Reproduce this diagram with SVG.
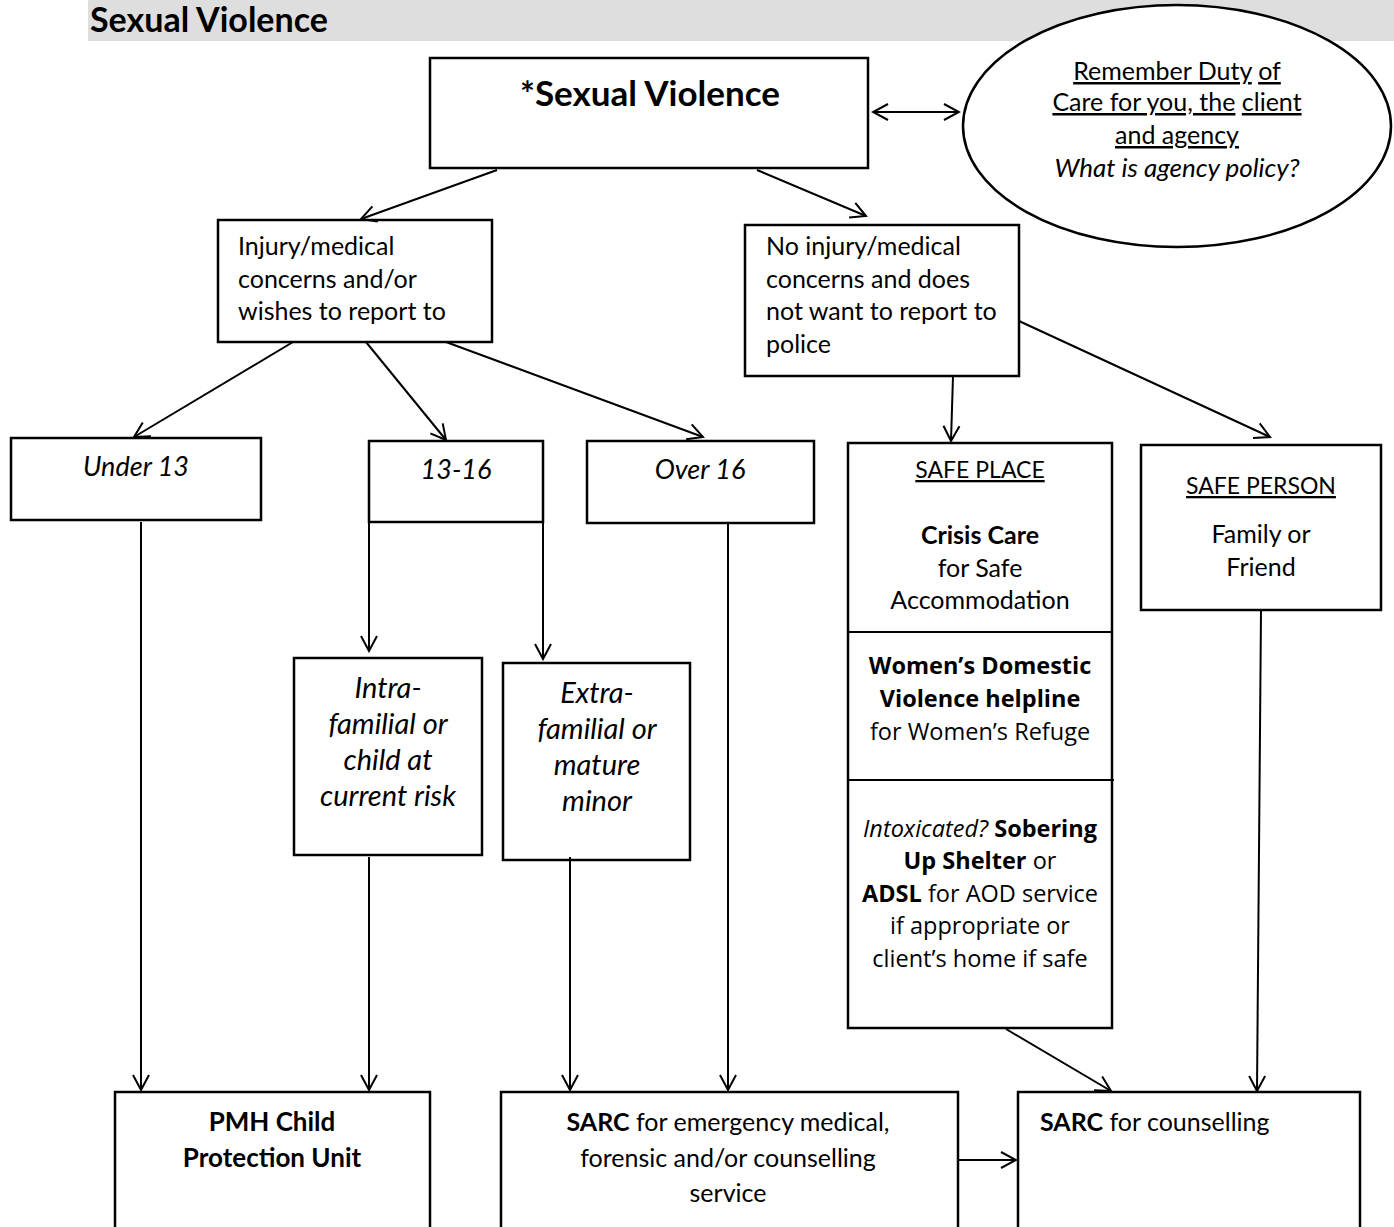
<svg xmlns="http://www.w3.org/2000/svg" width="1394" height="1227" viewBox="0 0 1394 1227">
  <defs>
    <marker id="arrow" markerUnits="userSpaceOnUse" markerWidth="20" markerHeight="20" viewBox="-18 -10 20 20" refX="0" refY="0" orient="auto-start-reverse">
      <path d="M-15,-8 L0,0 L-15,8" fill="none" stroke="#000" stroke-width="2"/>
    </marker>
    <style>
      .box { fill: #fff; stroke: #000; stroke-width: 2.5; }
      .line { fill: none; stroke: #000; stroke-width: 2; }
      .t { font-family: Lato, "Open Sans", "Liberation Sans", sans-serif; font-size: 25px; fill: #000; }
      .c { text-anchor: middle; }
      .i { font-style: italic; font-size: 27px; }
      .b { font-weight: bold; }
      .u { text-decoration: underline; }
      .o { font-family: "Open Sans", "Liberation Sans", sans-serif; font-size: 23.5px; }
      .o .i, .o.i { font-size: 23.5px; }
    </style>
  </defs>

  <!-- page heading band -->
  <g id="heading">
    <rect x="88" y="0" width="1306" height="41" fill="#dedede"/>
    <text x="90" y="32" class="t b" style="font-size:34px">Sexual Violence</text>
  </g>

  <!-- duty of care reminder -->
  <g id="duty-of-care">
    <ellipse cx="1177" cy="126" rx="214" ry="121" class="box" stroke-width="2"/>
    <text x="1177" y="80" class="t c"><tspan class="u">Remember Duty</tspan> <tspan class="u">of</tspan></text>
    <text x="1177" y="111" class="t c"><tspan class="u">Care for you, the</tspan> <tspan class="u">client</tspan></text>
    <text x="1177" y="144" class="t c u">and agency</text>
    <text x="1177" y="177" class="t c i" style="font-size:26px">What is agency policy?</text>
  </g>

  <g id="sexual-violence">
    <rect x="430" y="58" width="438" height="110" class="box"/>
    <text x="650" y="106" class="t c b" style="font-size:35px">*Sexual Violence</text>
  </g>

  <g id="injury">
    <rect x="218" y="220" width="274" height="122" class="box"/>
    <text class="t"><tspan x="238" y="255">Injury/medical</tspan><tspan x="238" y="288">concerns and/or</tspan><tspan x="238" y="320">wishes to report to</tspan></text>
  </g>

  <g id="no-injury">
    <rect x="745" y="225" width="274" height="151" class="box"/>
    <text class="t"><tspan x="766" y="255">No injury/medical</tspan><tspan x="766" y="288">concerns and does</tspan><tspan x="766" y="320">not want to report to</tspan><tspan x="766" y="353">police</tspan></text>
  </g>

  <g id="under-13">
    <rect x="11" y="438" width="250" height="82" class="box"/>
    <text x="136" y="476" class="t c i">Under 13</text>
  </g>

  <g id="age-13-16">
    <rect x="369" y="441" width="174" height="81" class="box"/>
    <text x="456" y="479" class="t c i">13-16</text>
  </g>

  <g id="over-16">
    <rect x="587" y="441" width="227" height="82" class="box"/>
    <text x="700" y="479" class="t c i">Over 16</text>
  </g>

  <g id="safe-place">
    <rect x="848" y="443" width="264" height="585" class="box"/>
    <line x1="848" y1="632" x2="1112" y2="632" class="line" stroke-width="2.5"/>
    <line x1="848" y1="780" x2="1114" y2="780" class="line" stroke-width="2.5"/>
    <text x="980" y="478" class="t c u" style="font-size:23px">SAFE PLACE</text>
    <text x="980" y="544" class="t c b">Crisis Care</text>
    <text x="980" y="577" class="t c">for Safe</text>
    <text x="980" y="609" class="t c">Accommodation</text>
    <text x="980" y="674" class="t o c b">Women’s Domestic</text>
    <text x="980" y="707" class="t o c b">Violence helpline</text>
    <text x="980" y="740" class="t o c">for Women’s Refuge</text>
    <text x="980" y="837" class="t o c"><tspan class="i">Intoxicated?</tspan> <tspan class="b">Sobering</tspan></text>
    <text x="980" y="869" class="t o c"><tspan class="b">Up Shelter</tspan> or</text>
    <text x="980" y="902" class="t o c"><tspan class="b">ADSL</tspan> for AOD service</text>
    <text x="980" y="934" class="t o c">if appropriate or</text>
    <text x="980" y="967" class="t o c">client’s home if safe</text>
  </g>

  <g id="safe-person">
    <rect x="1141" y="445" width="240" height="165" class="box"/>
    <text x="1261" y="494" class="t c u" style="font-size:23px">SAFE PERSON</text>
    <text x="1261" y="543" class="t c">Family or</text>
    <text x="1261" y="576" class="t c">Friend</text>
  </g>

  <g id="intra-familial">
    <rect x="294" y="658" width="188" height="197" class="box"/>
    <text class="t c i" style="font-size:29px"><tspan x="388" y="698">Intra-</tspan><tspan x="388" y="734">familial or</tspan><tspan x="388" y="770">child at</tspan><tspan x="388" y="806">current risk</tspan></text>
  </g>

  <g id="extra-familial">
    <rect x="503" y="663" width="187" height="197" class="box"/>
    <text class="t c i" style="font-size:29px"><tspan x="597" y="703">Extra-</tspan><tspan x="597" y="739">familial or</tspan><tspan x="597" y="775">mature</tspan><tspan x="597" y="811">minor</tspan></text>
  </g>

  <g id="pmh-cpu">
    <rect x="115" y="1092" width="315" height="150" class="box"/>
    <text x="272" y="1131" class="t c b" style="font-size:26px">PMH Child</text>
    <text x="272" y="1167" class="t c b" style="font-size:26px">Protection Unit</text>
  </g>

  <g id="sarc-emergency">
    <rect x="501" y="1092" width="457" height="150" class="box"/>
    <text x="728" y="1131" class="t c"><tspan class="b">SARC</tspan> for emergency medical,</text>
    <text x="728" y="1167" class="t c">forensic and/or counselling</text>
    <text x="728" y="1202" class="t c">service</text>
  </g>

  <g id="sarc-counselling">
    <rect x="1018" y="1092" width="342" height="150" class="box"/>
    <text x="1040" y="1131" class="t"><tspan class="b">SARC</tspan> for counselling</text>
  </g>

  <!-- connectors -->
  <g id="connectors" class="line">
    <line x1="873" y1="112" x2="959" y2="112" marker-start="url(#arrow)" marker-end="url(#arrow)"/>
    <line x1="497" y1="170" x2="361" y2="219" marker-end="url(#arrow)"/>
    <line x1="757" y1="170" x2="866" y2="216" marker-end="url(#arrow)"/>

    <line x1="293" y1="342" x2="134" y2="437" marker-end="url(#arrow)"/>
    <line x1="366" y1="342" x2="446" y2="440" marker-end="url(#arrow)"/>
    <line x1="446" y1="342" x2="703" y2="437" marker-end="url(#arrow)"/>

    <line x1="953" y1="376" x2="951" y2="441" marker-end="url(#arrow)"/>
    <line x1="1019" y1="321" x2="1270" y2="437" marker-end="url(#arrow)"/>

    <line x1="369" y1="522" x2="369" y2="651" marker-end="url(#arrow)"/>
    <line x1="543" y1="522" x2="543" y2="659" marker-end="url(#arrow)"/>

    <line x1="141" y1="522" x2="141" y2="1090" marker-end="url(#arrow)"/>
    <line x1="369" y1="857" x2="369" y2="1090" marker-end="url(#arrow)"/>
    <line x1="570" y1="857" x2="570" y2="1090" marker-end="url(#arrow)"/>
    <line x1="728" y1="523" x2="728" y2="1090" marker-end="url(#arrow)"/>

    <line x1="1006" y1="1029" x2="1111" y2="1091" marker-end="url(#arrow)"/>
    <line x1="1261" y1="610" x2="1257" y2="1091" marker-end="url(#arrow)"/>

    <line x1="958" y1="1160" x2="1016" y2="1160" marker-end="url(#arrow)"/>
  </g>
</svg>
